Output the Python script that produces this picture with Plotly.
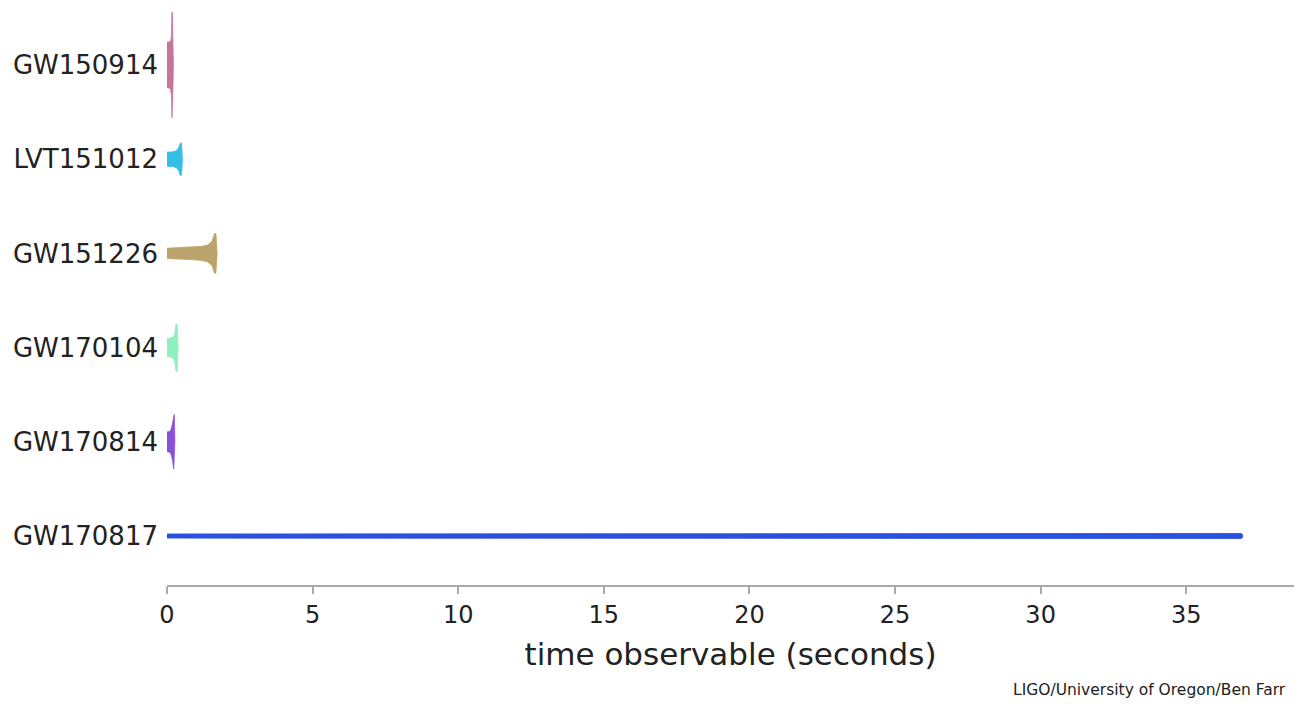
import plotly.graph_objects as go

# Events, top to bottom
events = ["GW150914", "LVT151012", "GW151226", "GW170104", "GW170814", "GW170817"]
colors = ["#c9739a", "#35bfe6", "#bba46b", "#8ff0bd", "#8a50dc", "#2b50e0"]

# Strain envelopes: time in band (s) and half-amplitude (in row units)
t_gw150914 = [0.0, 0.12, 0.14, 0.155, 0.17, 0.185, 0.20, 0.22]
a_gw150914 = [0.24, 0.25, 0.27, 0.33, 0.56, 0.56, 0.30, 0.0]

t_lvt151012 = [0.0, 0.20, 0.32, 0.40, 0.45, 0.50, 0.53]
a_lvt151012 = [0.075, 0.078, 0.09, 0.12, 0.17, 0.17, 0.0]

t_gw151226 = [0.0, 0.8, 1.2, 1.4, 1.55, 1.63, 1.68, 1.72]
a_gw151226 = [0.055, 0.065, 0.075, 0.09, 0.13, 0.21, 0.21, 0.0]

t_gw170104 = [0.0, 0.12, 0.20, 0.26, 0.31, 0.35, 0.38]
a_gw170104 = [0.095, 0.10, 0.11, 0.14, 0.25, 0.25, 0.0]

t_gw170814 = [0.0, 0.10, 0.15, 0.19, 0.23, 0.25, 0.27]
a_gw170814 = [0.105, 0.11, 0.14, 0.20, 0.29, 0.29, 0.0]

t_gw170817 = [0.0, 10.0, 20.0, 30.0, 36.0, 36.9, 36.95]
a_gw170817 = [0.022, 0.023, 0.024, 0.026, 0.027, 0.027, 0.0]

times = [t_gw150914, t_lvt151012, t_gw151226, t_gw170104, t_gw170814, t_gw170817]
amps = [a_gw150914, a_lvt151012, a_gw151226, a_gw170104, a_gw170814, a_gw170817]

x_ticks = [0, 5, 10, 15, 20, 25, 30, 35]

fig = go.Figure()
n = len(events)
for i, (name, col, t, a) in enumerate(zip(events, colors, times, amps)):
    row = n - 1 - i
    xs = list(t) + list(reversed(t))
    ys = [row + v for v in a] + [row - v for v in reversed(a)]
    fig.add_trace(go.Scatter(
        x=xs, y=ys, mode="lines", fill="toself",
        fillcolor=col, line=dict(color=col, width=0.8),
        name=name, showlegend=False, hoverinfo="name",
    ))

fig.update_layout(
    width=1303, height=707,
    margin=dict(l=167, r=9, t=0, b=122),
    paper_bgcolor="white", plot_bgcolor="white",
    font=dict(family="DejaVu Sans", color="#222222"),
    xaxis=dict(
        range=[0, 38.7], tickvals=x_ticks,
        showgrid=False, zeroline=False,
        showline=True, linecolor="#aaaaaa", linewidth=2,
        ticks="outside", ticklen=7, tickwidth=1.5, tickcolor="#aaaaaa",
        tickfont=dict(size=24, color="#222222"),
        title=dict(text="time observable (seconds)", font=dict(size=31, color="#222222"), standoff=16),
    ),
    yaxis=dict(
        range=[-0.52, 5.69],
        tickvals=list(range(n - 1, -1, -1)), ticktext=events,
        showgrid=False, zeroline=False, showline=False,
        ticks="", tickfont=dict(size=26, color="#222222"),
        ticklabelstandoff=8,
    ),
    annotations=[dict(
        text="LIGO/University of Oregon/Ben Farr",
        xref="paper", yref="paper", x=0.995, y=-0.16,
        xanchor="right", yanchor="top", showarrow=False,
        font=dict(size=15.5, color="#222222"),
    )],
)

fig.write_html("out.html")
